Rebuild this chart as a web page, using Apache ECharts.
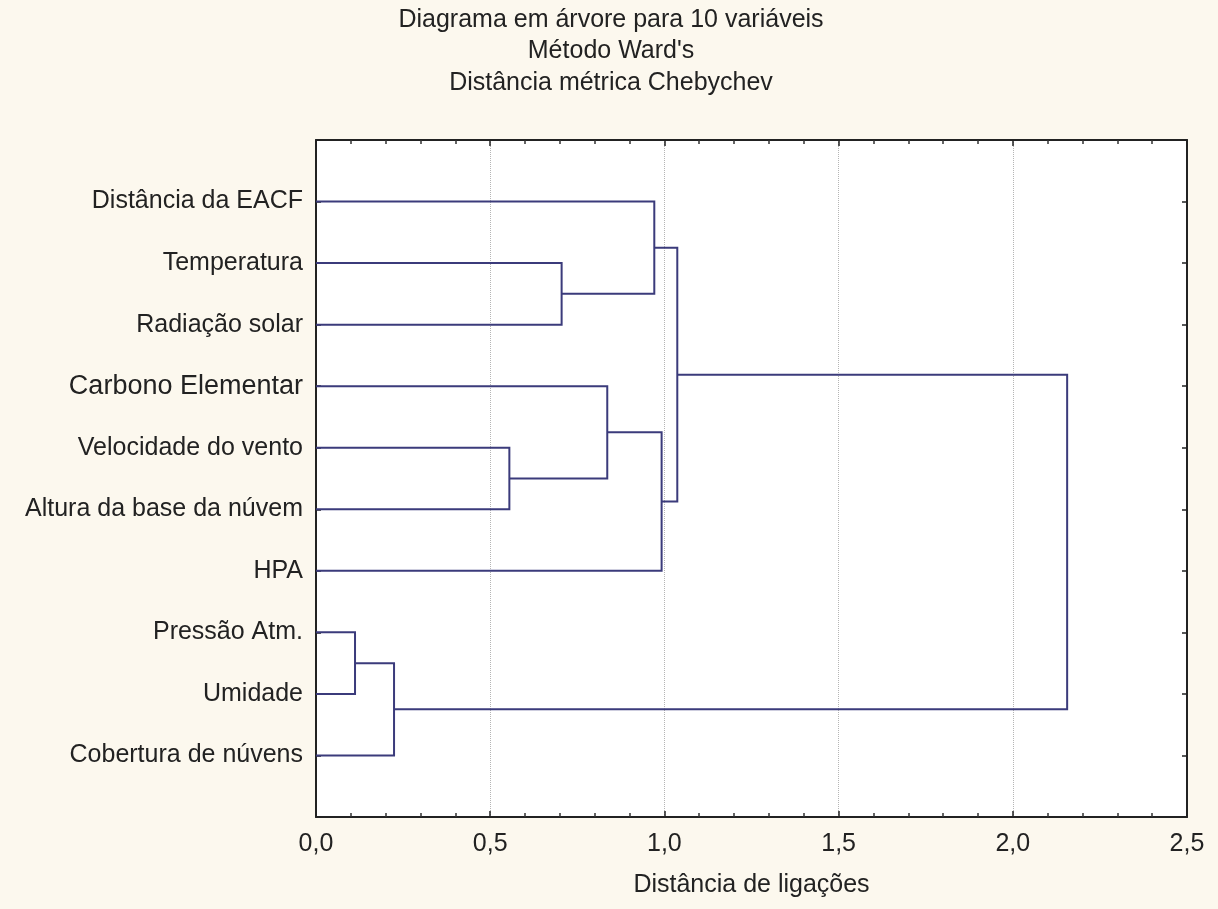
<!DOCTYPE html>
<html>
<head>
<meta charset="utf-8">
<script src="https://cdn.jsdelivr.net/npm/echarts@6/dist/echarts.min.js"></script>
<style>
html,body{margin:0;padding:0;background:#fcf8ee;}
#chart{width:1218px;height:909px;}
</style>
</head>
<body>
<div id="chart"></div>
<script>
// Leaf labels in display order (top to bottom)
const leafLabels = [
  'Distância da EACF',
  'Temperatura',
  'Radiação solar',
  'Carbono Elementar',
  'Velocidade do vento',
  'Altura da base da núvem',
  'HPA',
  'Pressão Atm.',
  'Umidade',
  'Cobertura de núvens'
];
// Merges: [childA, childB, linkage distance]; nodes 0..9 are leaves, 10+ are merges in order
const mergeA = [7, 10, 4, 1, 3, 0, 14, 15, 17];
const mergeB = [8, 9, 5, 2, 12, 13, 6, 16, 11];
const mergeHeight = [0.112, 0.224, 0.555, 0.705, 0.836, 0.971, 0.992, 1.037, 2.156];
// Axis ticks
const xTicks = [0, 0.5, 1.0, 1.5, 2.0, 2.5];
const titleLines = ['Diagrama em árvore para 10 variáveis', "Método Ward's", 'Distância métrica Chebychev'];
const xAxisName = 'Distância de ligações';

// Build dendrogram geometry from the linkage
const nodeY = leafLabels.map((_, i) => i + 1);
const nodeH = leafLabels.map(() => 0);
const links = [];
for (let k = 0; k < mergeHeight.length; k++) {
  const a = mergeA[k], b = mergeB[k], h = mergeHeight[k];
  links.push({coords: [[nodeH[a], nodeY[a]], [h, nodeY[a]], [h, nodeY[b]], [nodeH[b], nodeY[b]]]});
  nodeY.push((nodeY[a] + nodeY[b]) / 2);
  nodeH.push(h);
}

const FONT = "'Liberation Sans', Arial, sans-serif";
const TXT = '#222';
const chart = echarts.init(document.getElementById('chart'));
const xCommon = {
  type: 'value', min: xTicks[0], max: xTicks[xTicks.length - 1], interval: 0.5,
  axisLine: {show: true, onZero: false, lineStyle: {color: '#222', width: 2}},
  axisTick: {show: true, inside: true, length: 6, lineStyle: {color: '#222', width: 1.5}},
  minorTick: {show: true, splitNumber: 5, length: 4, lineStyle: {color: '#333', width: 1.5}}
};
const yCommon = {
  type: 'value', min: 0, max: leafLabels.length + 1, interval: 1, inverse: true,
  axisLine: {show: true, onZero: false, lineStyle: {color: '#222', width: 2}},
  axisTick: {show: true, inside: true, length: 5, lineStyle: {color: '#222', width: 1.5}},
  splitLine: {show: false}
};
chart.setOption({
  backgroundColor: '#fcf8ee',
  animation: false,
  graphic: titleLines.map((t, i) => ({
    type: 'text', x: 611, y: 20 + i * 31.5,
    style: {text: t, textAlign: 'center', textVerticalAlign: 'middle', font: '25px ' + FONT, fill: TXT}
  })),
  grid: {left: 316, top: 140, right: 31, bottom: 92, show: true, backgroundColor: '#ffffff', borderWidth: 0},
  xAxis: [
    Object.assign({}, xCommon, {
      position: 'bottom',
      splitLine: {show: true, lineStyle: {color: '#b5b5b5', type: 'dotted', width: 1}},
      axisLabel: {show: true, margin: 15, fontSize: 25, fontFamily: FONT, color: TXT,
        formatter: v => v.toFixed(1).replace('.', ',')},
      name: xAxisName, nameLocation: 'middle', nameGap: 56,
      nameTextStyle: {fontSize: 25, fontFamily: FONT, color: TXT}
    }),
    Object.assign({}, xCommon, {position: 'top', axisLabel: {show: false}, splitLine: {show: false}})
  ],
  yAxis: [
    Object.assign({}, yCommon, {
      position: 'left',
      axisLabel: {show: true, margin: 13, fontSize: 25, fontFamily: FONT, color: TXT,
        formatter: v => {
          const s = leafLabels[v - 1] || '';
          return v === 4 ? '{big|' + s + '}' : s;
        },
        rich: {big: {fontSize: 27, fontFamily: FONT, color: TXT}}
      }
    }),
    Object.assign({}, yCommon, {position: 'right', axisLabel: {show: false}})
  ],
  series: [{
    type: 'lines', coordinateSystem: 'cartesian2d', polyline: true, silent: true,
    xAxisIndex: 0, yAxisIndex: 0,
    lineStyle: {color: '#3b3b7b', width: 2, opacity: 1},
    data: links
  }]
});
</script>
</body>
</html>
